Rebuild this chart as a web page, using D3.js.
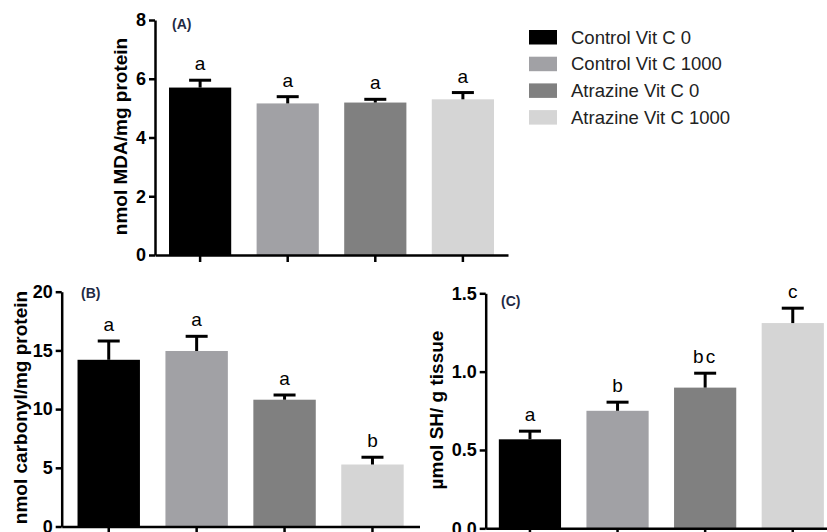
<!DOCTYPE html>
<html>
<head>
<meta charset="utf-8">
<script src="https://cdn.jsdelivr.net/npm/d3@7"></script>
<style>
  body { margin: 0; background: #fff; }
  svg { display: block; font-family: "Liberation Sans", Arial, sans-serif; }
  .axis path, .axis line { stroke: #000; stroke-width: 2.5; }
  .axis text { font-size: 18px; font-weight: bold; fill: #000; font-family: "Liberation Sans", Arial, sans-serif; }
</style>
</head>
<body>
<div id="vis"></div>
<script>
const WIDTH = 827;
const HEIGHT = 532;

const groups = ["Control Vit C 0", "Control Vit C 1000", "Atrazine Vit C 0", "Atrazine Vit C 1000"];
const colors = ["#000000", "#a1a1a5", "#808080", "#d5d5d5"];

// panel A: MDA
const mdaMean = [5.70, 5.16, 5.19, 5.30];
const mdaErr = [0.25, 0.23, 0.11, 0.23];
const mdaLetters = ["a", "a", "a", "a"];
const mdaTicks = [0, 2, 4, 6, 8];

// panel B: carbonyl
const carbMean = [14.2, 14.95, 10.8, 5.28];
const carbErr = [1.6, 1.25, 0.4, 0.62];
const carbLetters = ["a", "a", "a", "b"];
const carbTicks = [0, 5, 10, 15, 20];

// panel C: SH
const shMean = [0.568, 0.75, 0.898, 1.31];
const shErr = [0.052, 0.055, 0.092, 0.095];
const shLetters = ["a", "b", "bc", "c"];
const shTicks = [0, 0.5, 1.0, 1.5];

const svg = d3.select("#vis").append("svg")
  .attr("width", WIDTH)
  .attr("height", HEIGHT);

function drawPanel(p) {
  const x = d3.scaleBand()
    .domain(groups)
    .range([p.left, p.right])
    .paddingInner(0.29)
    .paddingOuter(p.outer);

  const y = d3.scaleLinear()
    .domain([0, p.max])
    .range([p.bottom, p.top]);

  const g = svg.append("g");

  g.selectAll(".bar")
    .data(groups)
    .enter()
    .append("rect")
    .attr("x", d => x(d))
    .attr("y", (d, i) => y(p.mean[i]))
    .attr("width", x.bandwidth())
    .attr("height", (d, i) => y(0) - y(p.mean[i]))
    .attr("fill", (d, i) => colors[i]);

  // error bars (upper only)
  const cap = 22;
  groups.forEach((d, i) => {
    const cx = x(d) + x.bandwidth() / 2;
    const top = y(p.mean[i] + p.err[i]);
    g.append("line")
      .attr("x1", cx).attr("x2", cx)
      .attr("y1", y(p.mean[i])).attr("y2", top)
      .attr("stroke", "#000").attr("stroke-width", 3);
    g.append("line")
      .attr("x1", cx - cap / 2).attr("x2", cx + cap / 2)
      .attr("y1", top).attr("y2", top)
      .attr("stroke", "#000").attr("stroke-width", 3);
    g.append("text")
      .attr("x", cx)
      .attr("y", top - 10)
      .attr("text-anchor", "middle")
      .attr("font-size", 19)
      .attr("letter-spacing", p.letters[i].length > 1 ? 2 : 0)
      .text(p.letters[i]);
  });

  g.append("g")
    .attr("class", "axis")
    .attr("transform", `translate(0, ${p.bottom})`)
    .call(d3.axisBottom(x).tickSize(7).tickSizeOuter(0).tickFormat(""));

  g.append("g")
    .attr("class", "axis")
    .attr("transform", `translate(${p.left}, 0)`)
    .call(d3.axisLeft(y).tickValues(p.ticks).tickSize(6).tickSizeOuter(0).tickFormat(p.fmt));

  g.append("text")
    .attr("transform", `translate(${p.titleX}, ${p.titleY}) rotate(-90)`)
    .attr("text-anchor", "middle")
    .attr("font-size", 19)
    .attr("font-weight", "bold")
    .text(p.title);

  g.append("text")
    .attr("x", p.labelX)
    .attr("y", p.labelY)
    .attr("font-size", 14)
    .attr("font-weight", "bold")
    .attr("fill", "#1f2a44")
    .text(p.label);
}

drawPanel({
  mean: mdaMean, err: mdaErr, letters: mdaLetters, ticks: mdaTicks, max: 8,
  fmt: d3.format("d"),
  left: 155, right: 508, outer: 0.16, top: 20, bottom: 255,
  title: "nmol MDA/mg protein", titleX: 126.5, titleY: 136.5,
  label: "(A)", labelX: 172, labelY: 29
});

drawPanel({
  mean: carbMean, err: carbErr, letters: carbLetters, ticks: carbTicks, max: 20,
  fmt: d3.format("d"),
  left: 61.7, right: 419.5, outer: 0.18, top: 291.7, bottom: 526.5,
  title: "nmol carbonyl/mg protein", titleX: 26.5, titleY: 407.5,
  label: "(B)", labelX: 81, labelY: 298
});

drawPanel({
  mean: shMean, err: shErr, letters: shLetters, ticks: shTicks, max: 1.5,
  fmt: d3.format(".1f"),
  left: 485.7, right: 837, outer: 0.15, top: 293.3, bottom: 528.3,
  title: "\u00b5mol SH/ g tissue", titleX: 442.5, titleY: 410,
  label: "(C)", labelX: 501, labelY: 306
});

// legend
const legend = svg.append("g").attr("transform", "translate(529, 30)");
const rows = legend.selectAll(".row")
  .data(groups)
  .enter()
  .append("g")
  .attr("transform", (d, i) => `translate(0, ${i * 26.7})`);
rows.append("rect")
  .attr("width", 28)
  .attr("height", 14.5)
  .attr("fill", (d, i) => colors[i]);
rows.append("text")
  .attr("x", 42)
  .attr("y", 13.5)
  .attr("font-size", 18.5)
  .attr("fill", "#222")
  .text(d => d);
</script>
</body>
</html>
